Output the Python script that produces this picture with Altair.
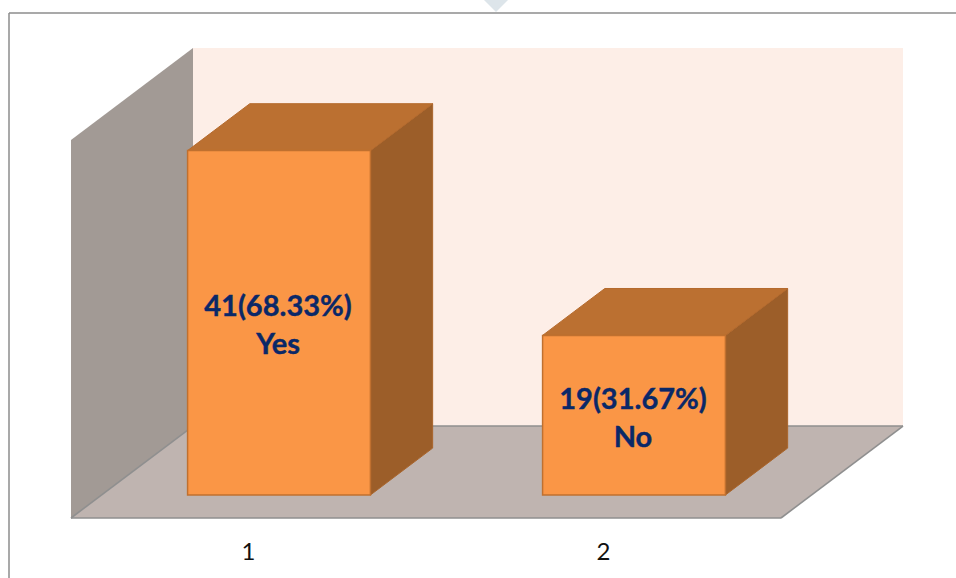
import altair as alt
import pandas as pd

# Survey result shown as a pseudo-3D column chart
categories = [1, 2]
counts = [41, 19]
percents = ["68.33", "31.67"]
answers = ["Yes", "No"]

AXIS_MAX = 45
X_MIN, X_MAX = 0.5, 2.5
DEPTH_X = 0.3437   # receding depth of the box, in x units
DEPTH_Y = 10.95    # receding depth of the box, in count units
BAR_W = 0.515
NEAR, FAR = 0.25, 0.76  # where each column sits inside the depth

x_scale = alt.Scale(domain=[X_MIN, X_MIN + 832 / 355], nice=False, zero=False)
y_scale = alt.Scale(domain=[0, 470 / 8.4], nice=False, zero=False)


def X(**kw):
    return alt.X("x:Q", scale=x_scale, axis=None, **kw)


def Y(field="y"):
    return alt.Y(f"{field}:Q", scale=y_scale, axis=None)


# Chart box: back wall, side wall, floor
back = alt.Chart(pd.DataFrame([{
    "x": X_MIN + DEPTH_X, "x2": X_MAX + DEPTH_X, "y": DEPTH_Y, "y2": AXIS_MAX + DEPTH_Y
}])).mark_rect(fill="#fdeee7").encode(
    x=X(), x2="x2:Q", y=Y(), y2="y2:Q"
)

wall = alt.Chart(pd.DataFrame([
    {"x": X_MIN, "y": 0, "y2": AXIS_MAX},
    {"x": X_MIN + DEPTH_X, "y": DEPTH_Y, "y2": AXIS_MAX + DEPTH_Y},
])).mark_area(fill="#a29a95", opacity=1).encode(x=X(), y=Y(), y2="y2:Q")

floor = alt.Chart(pd.DataFrame([
    {"x": X_MIN, "x2": X_MAX, "y": 0},
    {"x": X_MIN + DEPTH_X, "x2": X_MAX + DEPTH_X, "y": DEPTH_Y},
])).mark_area(orient="horizontal", fill="#bfb4b0", opacity=1).encode(
    x=X(), x2="x2:Q", y=Y()
)

edge_rows = [
    {"edge": "front", "x": X_MIN, "y": 0},
    {"edge": "front", "x": X_MAX, "y": 0},
    {"edge": "right", "x": X_MAX, "y": 0},
    {"edge": "right", "x": X_MAX + DEPTH_X, "y": DEPTH_Y},
    {"edge": "back", "x": X_MIN + DEPTH_X, "y": DEPTH_Y},
    {"edge": "back", "x": X_MAX + DEPTH_X, "y": DEPTH_Y},
    {"edge": "corner", "x": X_MIN, "y": 0},
    {"edge": "corner", "x": X_MIN + DEPTH_X, "y": DEPTH_Y},
]
edges = alt.Chart(pd.DataFrame(edge_rows)).mark_line(
    stroke="#8f8f8f", strokeWidth=1.6
).encode(x=X(), y=Y(), detail="edge:N")

# Column faces, derived from the counts
front_rows, side_rows, top_rows, label_rows = [], [], [], []
for cat, count, pct, answer in zip(categories, counts, percents, answers):
    left = cat - BAR_W / 2 + NEAR * DEPTH_X
    right = left + BAR_W
    shift_x = (FAR - NEAR) * DEPTH_X
    base = NEAR * DEPTH_Y
    shift_y = (FAR - NEAR) * DEPTH_Y
    front_rows.append({"x": left, "x2": right, "y": base, "y2": base + count})
    side_rows.append({"a": answer, "x": right, "y": base, "y2": base + count})
    side_rows.append({"a": answer, "x": right + shift_x, "y": base + shift_y, "y2": base + shift_y + count})
    top_rows.append({"a": answer, "x": left, "x2": right, "y": base + count})
    top_rows.append({"a": answer, "x": left + shift_x, "x2": right + shift_x, "y": base + shift_y + count})
    label_rows.append({
        "x": (left + right) / 2,
        "y": base + count / 2,
        "label": f"{count}({pct}%)\n{answer}",
    })

side = alt.Chart(pd.DataFrame(side_rows)).mark_area(
    fill="#9c5e29", stroke="#a9652c", strokeWidth=1, opacity=1
).encode(x=X(), y=Y(), y2="y2:Q", detail="a:N")

top = alt.Chart(pd.DataFrame(top_rows)).mark_area(
    orient="horizontal", fill="#bb7031", stroke="#b56a2d", strokeWidth=1, opacity=1
).encode(x=X(), x2="x2:Q", y=Y(), detail="a:N")

front = alt.Chart(pd.DataFrame(front_rows)).mark_rect(
    fill="#fa9646", stroke="#c0702f", strokeWidth=1.5
).encode(x=X(), x2="x2:Q", y=Y(), y2="y2:Q")

labels = alt.Chart(pd.DataFrame(label_rows)).mark_text(
    font="Lato", fontWeight="bold", fontSize=29, color="#0a2868",
    stroke="#0a2868", strokeWidth=0.4,
    lineBreak="\n", lineHeight=38, align="center", baseline="middle", dy=-15.5, dx=-1,
).encode(x=X(), y=Y(), text="label:N")

# Category labels under the front edge of the floor
ticks = alt.Chart(pd.DataFrame({"x": categories, "label": [str(c) for c in categories]})).mark_text(
    font="Lato", fontSize=24, color="#111111", align="center", baseline="middle"
).encode(x=X(), y=alt.value(505), text="label:N")

# Surrounding frame and the pale marker poking in at the top
frame_top = alt.Chart().mark_rule(stroke="#8c8c8c", strokeWidth=1.5).encode(
    x=alt.value(-62), x2=alt.value(885), y=alt.value(-35)
)
frame_left = alt.Chart().mark_rule(stroke="#8c8c8c", strokeWidth=1.5).encode(
    x=alt.value(-62), y=alt.value(-35), y2=alt.value(530)
)
marker = alt.Chart().mark_point(
    shape="M-1,0L1,0L0,1Z", filled=True, fill="#dde5ea", size=576, opacity=1
).encode(x=alt.value(425), y=alt.value(-48))

chart = alt.layer(
    marker, frame_top, frame_left, back, wall, floor, edges,
    side, top, front, labels, ticks,
).properties(
    width=832,
    height=470,
    padding={"left": 71, "top": 48, "right": 53, "bottom": 60},
    autosize=alt.AutoSizeParams(type="none"),
    background="white",
).configure_view(stroke=None, clip=False)

chart.save("out.html", embed_options={"renderer": "svg", "actions": False})
